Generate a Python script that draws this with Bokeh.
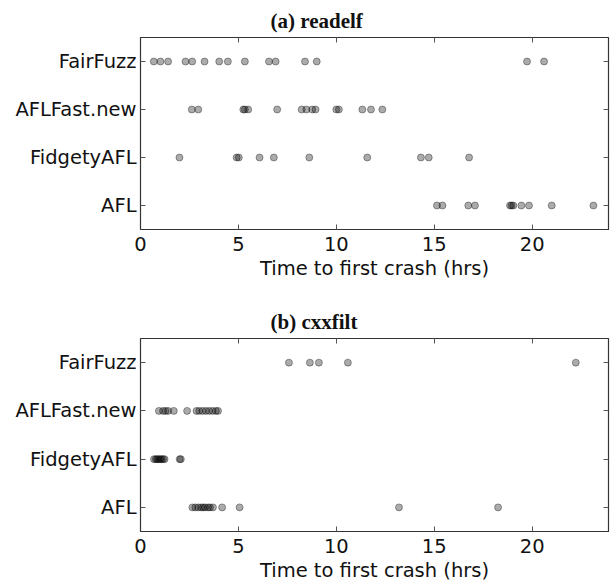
from bokeh.plotting import figure
from bokeh.models import FactorRange, Range1d, LinearAxis, CategoricalAxis, FixedTicker
from bokeh.layouts import column
from bokeh.embed import file_html
from bokeh.resources import INLINE

categories = ["AFL", "FidgetyAFL", "AFLFast.new", "FairFuzz"]
x_ticks = [0, 5, 10, 15, 20]
x_label = "Time to first crash (hrs)"
titles = ["(a) readelf", "(b) cxxfilt"]

# (a) readelf, time to first crash (hrs)
readelf_afl = [15.14, 15.42, 16.74, 17.08, 18.87, 18.95, 19.04, 19.45, 19.84, 21.00, 23.13]
readelf_fidgety = [1.99, 4.91, 5.02, 6.08, 6.81, 8.62, 11.58, 14.32, 14.72, 16.78]
readelf_aflfast = [2.62, 2.95, 5.25, 5.33, 5.50, 6.98, 8.23, 8.47, 8.77, 8.94,
                   10.00, 10.13, 11.33, 11.77, 12.35]
readelf_fairfuzz = [0.68, 1.02, 1.41, 2.30, 2.64, 3.27, 4.02, 4.46, 5.33, 6.56,
                    6.90, 8.40, 9.00, 19.74, 20.61]

# (b) cxxfilt, time to first crash (hrs)
cxxfilt_afl = [2.65, 2.80, 2.95, 3.10, 3.20, 3.30, 3.45, 3.55, 3.70, 4.17, 5.06, 13.20, 18.26]
cxxfilt_fidgety = [0.69, 0.78, 0.85, 0.92, 1.00, 1.07, 1.15, 1.23, 2.00, 2.06]
cxxfilt_aflfast = [0.94, 1.15, 1.28, 1.41, 1.70, 2.38, 2.86, 3.00, 3.17, 3.34,
                   3.51, 3.68, 3.85, 3.96]
cxxfilt_fairfuzz = [7.58, 8.65, 9.11, 10.59, 22.23]

readelf_data = [readelf_afl, readelf_fidgety, readelf_aflfast, readelf_fairfuzz]
cxxfilt_data = [cxxfilt_afl, cxxfilt_fidgety, cxxfilt_aflfast, cxxfilt_fairfuzz]

AX = "#333333"
TK = "#555555"
FS = "19.5px"


def style_axis(ax, labels=True):
    ax.major_tick_in = 5
    ax.major_tick_out = 0
    ax.minor_tick_line_color = None
    ax.major_tick_line_color = TK
    ax.axis_line_color = AX
    ax.major_label_text_font = "DejaVu Sans"
    ax.major_label_text_font_size = FS
    ax.major_label_text_color = "#111111"
    if not labels:
        ax.major_label_text_font_size = "0px"
        ax.major_label_text_color = None
        ax.major_label_standoff = 0
        ax.axis_line_color = None


def make(title, data, frame_h, top, bottom):
    xs, ys = [], []
    for cat, vals in zip(categories, data):
        xs += vals
        ys += [cat] * len(vals)
    p = figure(y_range=FactorRange(*categories), x_range=Range1d(0, 23.9),
               frame_width=468, frame_height=frame_h,
               min_border_left=140, min_border_right=8,
               min_border_top=top, min_border_bottom=bottom,
               output_backend="svg", toolbar_location=None, title=title)
    p.title.align = "left"
    p.title.offset = 130
    p.title.text_font = "Liberation Serif"
    p.title.text_font_style = "bold"
    p.title.text_font_size = "21px"
    p.title.text_color = "#111111"
    p.title.standoff = 10
    p.xgrid.visible = False
    p.ygrid.visible = False
    p.outline_line_color = AX
    p.outline_line_width = 1.2

    p.xaxis.ticker = FixedTicker(ticks=x_ticks)
    style_axis(p.xaxis[0])
    style_axis(p.yaxis[0])
    p.xaxis.major_label_standoff = 7
    p.yaxis.major_label_standoff = 4
    p.xaxis.axis_label = x_label
    p.xaxis.axis_label_text_font = "DejaVu Sans"
    p.xaxis.axis_label_text_font_size = FS
    p.xaxis.axis_label_text_font_style = "normal"
    p.xaxis.axis_label_text_color = "#111111"
    p.xaxis.axis_label_standoff = 3

    top_ax = LinearAxis(ticker=FixedTicker(ticks=x_ticks))
    style_axis(top_ax, labels=False)
    p.add_layout(top_ax, "above")
    right_ax = CategoricalAxis()
    style_axis(right_ax, labels=False)
    p.add_layout(right_ax, "right")

    p.scatter(xs, ys, size=7, fill_color="black", fill_alpha=0.33,
              line_color="black", line_alpha=0.35, line_width=1)
    return p


p1 = make(titles[0], readelf_data, 192, 37, 66)
p2 = make(titles[1], cxxfilt_data, 193, 43, 54)
layout = column(p1, p2, spacing=0)

open("out.html", "w").write(file_html(layout, INLINE))
